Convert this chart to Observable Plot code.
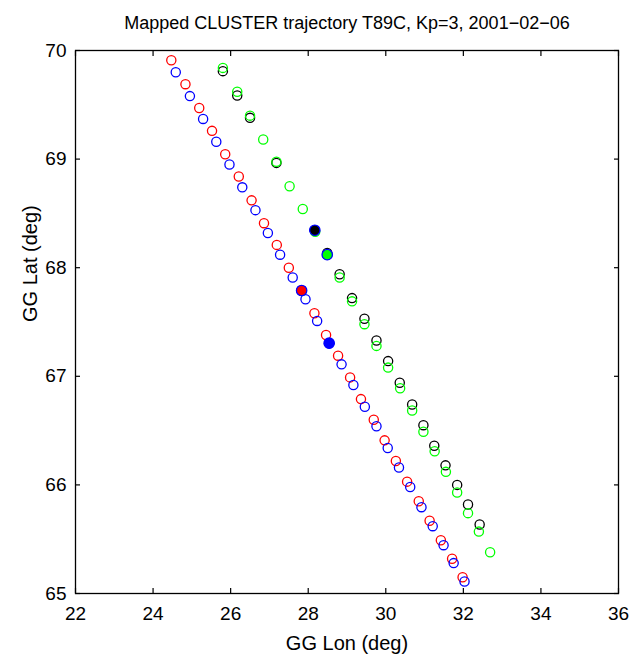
<!DOCTYPE html>
<html><head><meta charset="utf-8">
<script src="https://cdn.jsdelivr.net/npm/d3@7"></script>
<script src="https://cdn.jsdelivr.net/npm/@observablehq/plot@0.6"></script>
<style>body{margin:0;background:#fff}</style>
</head><body><div id="chart"></div>
<script>
const title = "Mapped CLUSTER trajectory T89C, Kp=3, 2001\u221202\u221206";
const xLabel = "GG Lon (deg)";
const yLabel = "GG Lat (deg)";
const xTicks = [22, 24, 26, 28, 30, 32, 34, 36];
const yTicks = [65, 66, 67, 68, 69, 70];

// spacecraft series (drawing order)
const seriesNames = ["C2", "C4", "C1", "C3"];

const c2Lon = [24.47, 24.835, 25.19, 25.52, 25.86, 26.21, 26.54, 26.86, 27.19, 27.50, 27.825, 28.16, 28.46, 28.77, 29.08, 29.36, 29.69, 29.97, 30.26, 30.55, 30.85, 31.13, 31.42, 31.71, 31.98];
const c2Lat = [69.91, 69.69, 69.47, 69.26, 69.045, 68.84, 68.62, 68.41, 68.21, 68.00, 67.79, 67.58, 67.38, 67.19, 66.99, 66.79, 66.60, 66.41, 66.22, 66.03, 65.85, 65.67, 65.49, 65.32, 65.15];

const c4Lon = [24.585, 24.95, 25.29, 25.63, 25.97, 26.30, 26.64, 26.96, 27.275, 27.60, 27.93, 28.23, 28.54, 28.86, 29.165, 29.46, 29.76, 30.05, 30.34, 30.63, 30.92, 31.21, 31.49, 31.75, 32.03];
const c4Lat = [69.80, 69.58, 69.37, 69.16, 68.95, 68.74, 68.53, 68.32, 68.12, 67.91, 67.71, 67.51, 67.305, 67.11, 66.92, 66.72, 66.54, 66.34, 66.16, 65.98, 65.795, 65.62, 65.445, 65.28, 65.11];

const c1Lon = [25.80, 26.17, 26.50, 27.18, 28.17, 28.49, 28.81, 29.13, 29.45, 29.76, 30.06, 30.36, 30.68, 30.97, 31.25, 31.54, 31.84, 32.12, 32.42];
const c1Lat = [69.81, 69.585, 69.38, 68.965, 68.345, 68.135, 67.94, 67.72, 67.53, 67.33, 67.14, 66.94, 66.74, 66.55, 66.36, 66.18, 66.00, 65.82, 65.635];

const c3Lon = [25.80, 26.17, 26.50, 26.84, 27.18, 27.52, 27.86, 28.18, 28.49, 28.81, 29.13, 29.45, 29.76, 30.06, 30.37, 30.68, 30.97, 31.26, 31.55, 31.84, 32.12, 32.40, 32.69];
const c3Lat = [69.84, 69.62, 69.40, 69.18, 68.975, 68.75, 68.54, 68.33, 68.12, 67.91, 67.69, 67.48, 67.28, 67.08, 66.89, 66.685, 66.49, 66.31, 66.12, 65.93, 65.74, 65.57, 65.38];

// highlighted (filled) positions
const eventSc = ["C2", "C1", "C3", "C4"];
const eventLon = [27.83, 28.17, 28.49, 28.54];
const eventLat = [67.79, 68.345, 68.12, 67.305];

const tracks = {C1: [c1Lon, c1Lat], C2: [c2Lon, c2Lat], C3: [c3Lon, c3Lat], C4: [c4Lon, c4Lat]};
const rows = seriesNames.flatMap(s => tracks[s][0].map((lon, i) => ({series: s, lon, lat: tracks[s][1][i]})));
const events = eventSc.map((s, i) => ({series: s, lon: eventLon[i], lat: eventLat[i]}));

const font = "'Liberation Sans', Arial, Helvetica, sans-serif";
const fmt = d => String(d);

const chart = Plot.plot({
  width: 633,
  height: 661,
  marginLeft: 75,
  marginRight: 15,
  marginTop: 50,
  marginBottom: 68,
  style: {fontFamily: font, fontSize: "19px", color: "#000", background: "#fff"},
  x: {domain: [22, 36], axis: null},
  y: {domain: [65, 70], axis: null},
  color: {domain: ["C1", "C2", "C3", "C4"], range: ["#000000", "#ff0000", "#00ff00", "#0000ff"]},
  marks: [
    Plot.axisX(xTicks, {anchor: "bottom", tickSize: -5, tickPadding: 18, tickFormat: fmt, label: null, fontSize: 19, strokeWidth: 1.2}),
    Plot.axisX(xTicks, {anchor: "top", tickSize: -5, tickFormat: () => "", label: null, strokeWidth: 1.2}),
    Plot.axisY(yTicks, {anchor: "left", tickSize: -5, tickPadding: 14, tickFormat: fmt, label: null, fontSize: 19, strokeWidth: 1.2}),
    Plot.axisY(yTicks, {anchor: "right", tickSize: -5, tickFormat: () => "", label: null, strokeWidth: 1.2}),
    Plot.frame({stroke: "#000", strokeWidth: 1.3}),
    Plot.dot(rows, {x: "lon", y: "lat", stroke: "series", r: 4.6, strokeWidth: 1.3, fill: "none"}),
    Plot.dot(events, {x: "lon", y: "lat", fill: "series", stroke: "#0000ff", r: 5.2, strokeWidth: 1.3}),
    Plot.text([title], {text: d => d, frameAnchor: "top", dy: -34, fontSize: 18}),
    Plot.text([xLabel], {text: d => d, frameAnchor: "bottom", dy: 56, fontSize: 20}),
    Plot.text([yLabel], {text: d => d, frameAnchor: "left", dx: -45, rotate: -90, fontSize: 20})
  ]
});
document.getElementById("chart").appendChild(chart);
</script>
</body></html>
